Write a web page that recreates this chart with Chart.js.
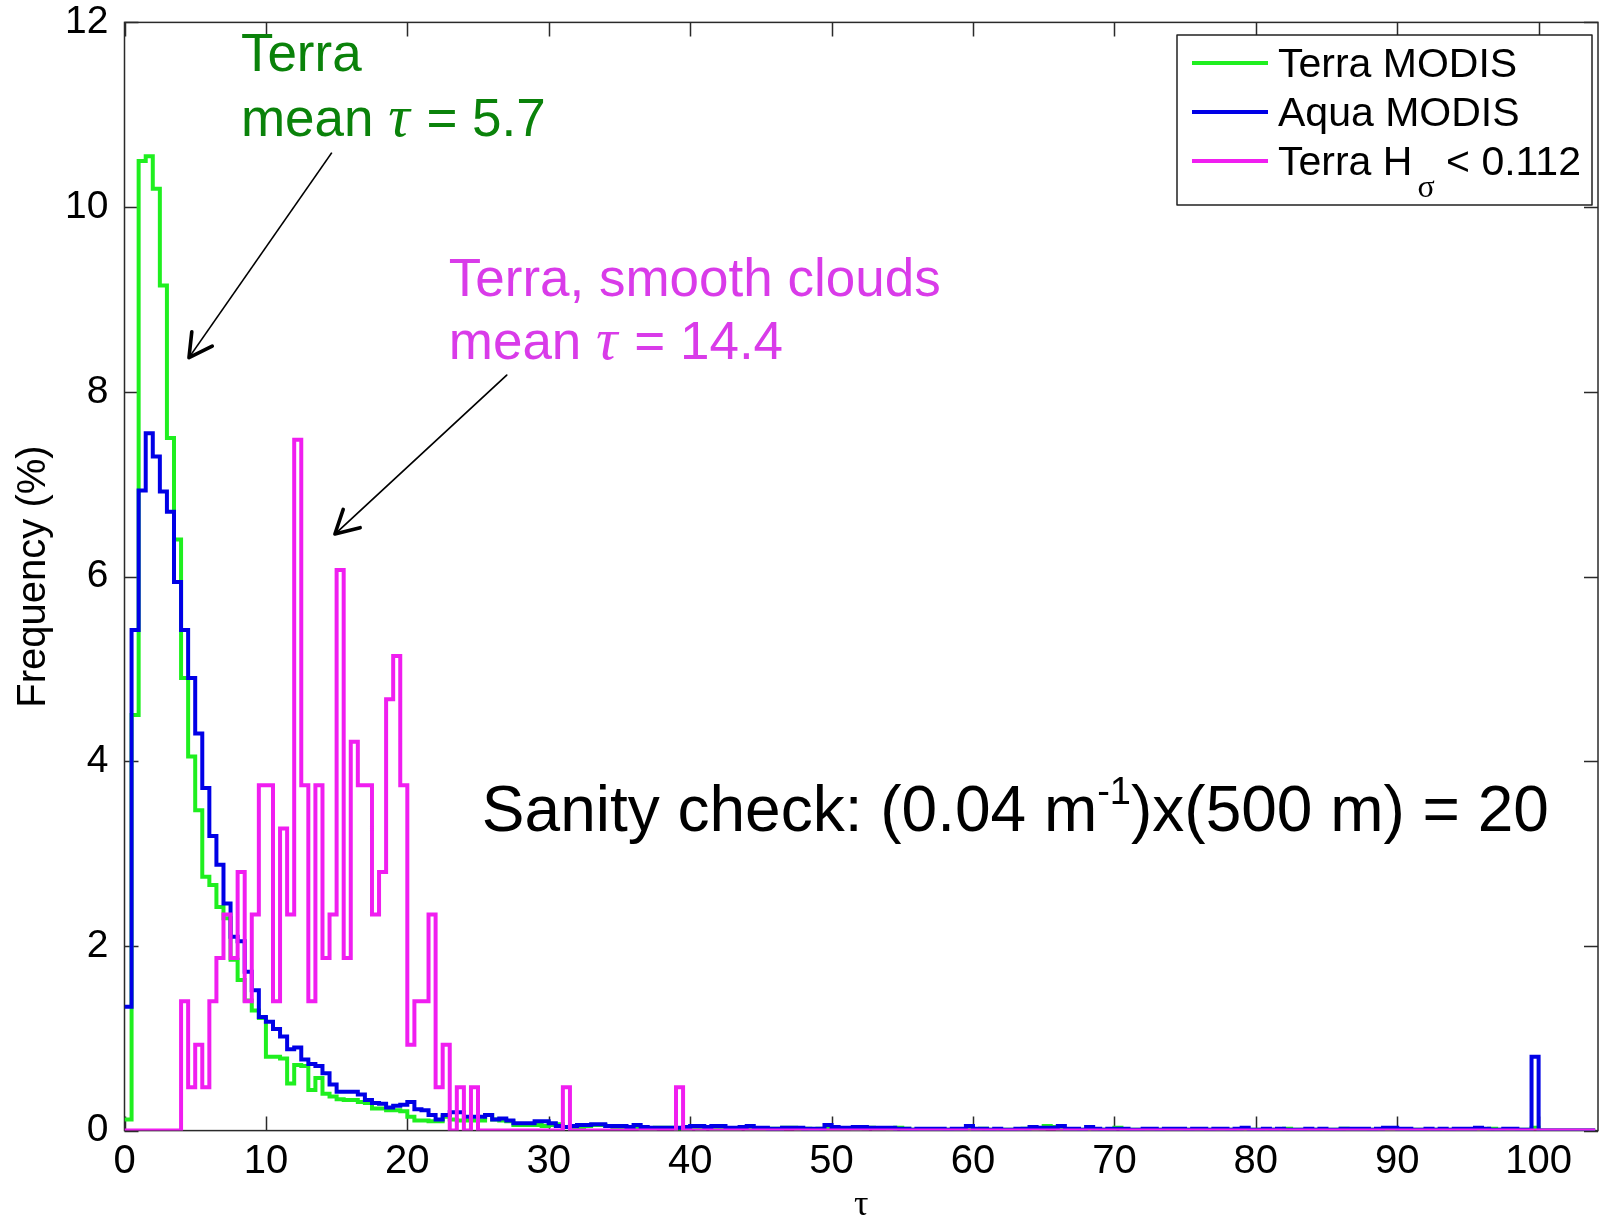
<!DOCTYPE html>
<html>
<head>
<meta charset="utf-8">
<script src="https://cdn.jsdelivr.net/npm/chart.js"></script>
<style>
  html, body { margin: 0; padding: 0; background: #fff; }
  #c { display: block; }
</style>
</head>
<body>
<canvas id="c" width="1600" height="1224"></canvas>
<script>
// histogram bins are 0.5 wide in tau, first bin starts at 0
const binWidth = 0.5;

// Terra MODIS, frequency (%) per bin
const terraFreq = [
  0.12, 4.5, 10.5, 10.55, 10.2, 9.15, 7.5, 6.4, 4.9, 4.05,
  3.47, 2.75, 2.66, 2.42, 2.3, 1.85, 1.63, 1.41, 1.3, 1.22,
  0.8, 0.8, 0.78, 0.51, 0.71, 0.7, 0.44, 0.57, 0.4, 0.37,
  0.34, 0.33, 0.33, 0.31, 0.3, 0.24, 0.24, 0.22, 0.22, 0.21,
  0.15, 0.11, 0.11, 0.1, 0.1, 0.15, 0.12, 0.11, 0.11, 0.11,
  0.11, 0.17, 0.12, 0.11, 0.1, 0.06, 0.06, 0.06, 0.06, 0.05,
  0.06, 0.07, 0.04, 0.04, 0.04, 0.05, 0.06, 0.06, 0.05, 0.04,
  0.04, 0.03, 0.03, 0.02, 0.02, 0.03, 0.03, 0.03, 0.02, 0.02,
  0.03, 0.02, 0.03, 0.02, 0.02, 0.02, 0.02, 0.03, 0.02, 0.02,
  0.02, 0.02, 0.02, 0.03, 0.03, 0.02, 0.02, 0.01, 0.02, 0.02,
  0.02, 0.02, 0.02, 0.01, 0.02, 0.03, 0.02, 0.02, 0.01, 0.03,
  0.02, 0.01, 0.01, 0.01, 0.01, 0.01, 0.01, 0.01, 0.01, 0.01,
  0.01, 0.02, 0.01, 0.01, 0.01, 0.01, 0.01, 0.02, 0.01, 0.02,
  0.05, 0.04, 0.02, 0.01, 0.01, 0.01, 0.01, 0.01, 0.01, 0.01,
  0.03, 0.01, 0.01, 0.01, 0.01, 0.01, 0.01, 0.01, 0.01, 0.01,
  0.01, 0.01, 0.01, 0.01, 0.01, 0.01, 0.01, 0.01, 0.01, 0.01,
  0.01, 0.01, 0.01, 0.01, 0.02, 0.01, 0.01, 0.01, 0.01, 0.01,
  0.01, 0.01, 0.02, 0.01, 0.01, 0.01, 0.01, 0.01, 0.01, 0.01,
  0.01, 0.01, 0.01, 0.01, 0.01, 0.01, 0.01, 0.01, 0.01, 0.01,
  0.01, 0.01, 0.01, 0.02, 0.01, 0.01, 0.01, 0.01, 0.01, 0.03,
  0, 0, 0, 0, 0, 0, 0, 0
];

// Aqua MODIS
const aquaFreq = [
  1.34, 5.42, 6.93, 7.55, 7.3, 6.92, 6.7, 5.94, 5.42, 4.9,
  4.3, 3.71, 3.19, 2.88, 2.46, 2.1, 2.05, 1.72, 1.52, 1.23,
  1.18, 1.1, 1.02, 0.88, 0.9, 0.77, 0.72, 0.7, 0.62, 0.5,
  0.42, 0.42, 0.42, 0.39, 0.33, 0.3, 0.29, 0.25, 0.27, 0.28,
  0.31, 0.23, 0.22, 0.17, 0.12, 0.17, 0.2, 0.2, 0.15, 0.15,
  0.15, 0.17, 0.12, 0.13, 0.11, 0.08, 0.08, 0.08, 0.1, 0.1,
  0.08, 0.05, 0.04, 0.05, 0.06, 0.06, 0.07, 0.07, 0.05, 0.05,
  0.05, 0.04, 0.06, 0.04, 0.03, 0.03, 0.03, 0.03, 0.03, 0.04,
  0.05, 0.05, 0.04, 0.05, 0.05, 0.03, 0.03, 0.04, 0.05, 0.03,
  0.03, 0.02, 0.02, 0.03, 0.03, 0.03, 0.02, 0.02, 0.02, 0.06,
  0.04, 0.03, 0.03, 0.04, 0.04, 0.03, 0.03, 0.03, 0.03, 0.02,
  0.02, 0.01, 0.02, 0.02, 0.02, 0.02, 0.01, 0.02, 0.02, 0.05,
  0.02, 0.02, 0.01, 0.02, 0.01, 0.01, 0.02, 0.02, 0.04, 0.03,
  0.03, 0.03, 0.05, 0.02, 0.02, 0.01, 0.04, 0.02, 0.01, 0.02,
  0.02, 0.02, 0.01, 0.01, 0.02, 0.02, 0.01, 0.02, 0.02, 0.02,
  0.01, 0.02, 0.02, 0.01, 0.02, 0.02, 0.01, 0.02, 0.03, 0.01,
  0.01, 0.02, 0.01, 0.02, 0.01, 0.01, 0.01, 0.02, 0.01, 0.02,
  0.01, 0.01, 0.02, 0.02, 0.02, 0.02, 0.01, 0.02, 0.03, 0.03,
  0.02, 0.02, 0.01, 0.01, 0.02, 0.01, 0.02, 0.01, 0.02, 0.02,
  0.02, 0.03, 0.02, 0.01, 0.01, 0.02, 0.02, 0.01, 0.01, 0.8,
  0, 0, 0, 0, 0, 0, 0, 0
];

// Terra, H_sigma < 0.112 (smooth clouds)
const smoothFreq = [
  0, 0, 0, 0, 0, 0, 0, 0, 1.4, 0.47,
  0.93, 0.47, 1.4, 1.87, 2.34, 1.87, 2.8, 1.4, 2.34, 3.74,
  3.74, 1.4, 3.27, 2.34, 7.48, 3.74, 1.4, 3.74, 1.87, 2.34,
  6.07, 1.87, 4.21, 3.74, 3.74, 2.34, 2.8, 4.67, 5.14, 3.74,
  0.93, 1.4, 1.4, 2.34, 0.47, 0.93, 0, 0.47, 0, 0.47,
  0, 0, 0, 0, 0, 0, 0, 0, 0, 0,
  0, 0, 0.47, 0, 0, 0, 0, 0, 0, 0,
  0, 0, 0, 0, 0, 0, 0, 0, 0.47, 0,
  0, 0, 0, 0, 0, 0, 0, 0, 0, 0,
  0, 0, 0, 0, 0, 0, 0, 0, 0, 0,
  0, 0, 0, 0, 0, 0, 0, 0, 0, 0,
  0, 0, 0, 0, 0, 0, 0, 0, 0, 0,
  0, 0, 0, 0, 0, 0, 0, 0, 0, 0,
  0, 0, 0, 0, 0, 0, 0, 0, 0, 0,
  0, 0, 0, 0, 0, 0, 0, 0, 0, 0,
  0, 0, 0, 0, 0, 0, 0, 0, 0, 0,
  0, 0, 0, 0, 0, 0, 0, 0, 0, 0,
  0, 0, 0, 0, 0, 0, 0, 0, 0, 0,
  0, 0, 0, 0, 0, 0, 0, 0, 0, 0,
  0, 0, 0, 0, 0, 0, 0, 0, 0, 0,
  0, 0, 0, 0, 0, 0, 0, 0
];

const xTickValues = [0, 10, 20, 30, 40, 50, 60, 70, 80, 90, 100];
const yTickValues = [0, 2, 4, 6, 8, 10, 12];
const xMax = 104.2;
const yMax = 12;

const SANS = "'Liberation Sans', Arial, Helvetica, sans-serif";
const SERIF = "'Liberation Serif', 'Times New Roman', serif";
const GREEN = '#1fef1f';
const BLUE = '#0000e6';
const MAGENTA = '#f01ef0';
const GREEN_TEXT = '#0a820a';
const MAGENTA_TEXT = '#d93be9';

// left edges of the bins -> points for a stepped line
function stepPoints(freq) {
  const pts = freq.map((v, i) => ({ x: i * binWidth, y: v }));
  pts.push({ x: freq.length * binWidth, y: freq[freq.length - 1] });
  return pts;
}

// draw a run of text pieces one after the other (for sub/superscripts and the tau)
function drawRuns(ctx, x, y, runs, color) {
  ctx.fillStyle = color;
  ctx.textBaseline = 'alphabetic';
  ctx.textAlign = 'left';
  let cx = x;
  runs.forEach(r => {
    ctx.font = r.font;
    ctx.fillText(r.text, cx, y + (r.dy || 0));
    cx += ctx.measureText(r.text).width + (r.gap || 0);
  });
}

function arrow(ctx, x0, y0, x1, y1) {
  const ang = Math.atan2(y1 - y0, x1 - x0);
  const len = 26, spread = 0.5;
  ctx.strokeStyle = '#000';
  ctx.lineWidth = 1.7;
  ctx.beginPath();
  ctx.moveTo(x0, y0);
  ctx.lineTo(x1, y1);
  ctx.stroke();
  ctx.lineWidth = 3.6;
  ctx.lineCap = 'round';
  ctx.lineJoin = 'round';
  ctx.beginPath();
  ctx.moveTo(x1 - len * Math.cos(ang - spread), y1 - len * Math.sin(ang - spread));
  ctx.lineTo(x1, y1);
  ctx.lineTo(x1 - len * Math.cos(ang + spread), y1 - len * Math.sin(ang + spread));
  ctx.stroke();
}

// matlab style box with inward ticks on all four sides
const axesBox = {
  id: 'axesBox',
  beforeDatasetsDraw(chart) {
    const { ctx, chartArea: a, scales: { x, y } } = chart;
    const tl = 14;
    ctx.save();
    ctx.strokeStyle = '#2a2a2a';
    ctx.lineWidth = 1.5;
    ctx.strokeRect(a.left, a.top, a.right - a.left, a.bottom - a.top);
    ctx.beginPath();
    xTickValues.forEach(v => {
      const px = Math.round(x.getPixelForValue(v)) + 0.5;
      ctx.moveTo(px, a.bottom); ctx.lineTo(px, a.bottom - tl);
      ctx.moveTo(px, a.top); ctx.lineTo(px, a.top + tl);
    });
    yTickValues.forEach(v => {
      const py = Math.round(y.getPixelForValue(v)) + 0.5;
      ctx.moveTo(a.left, py); ctx.lineTo(a.left + tl, py);
      ctx.moveTo(a.right, py); ctx.lineTo(a.right - tl, py);
    });
    ctx.stroke();
    ctx.restore();
  }
};

const notes = {
  id: 'notes',
  afterDatasetsDraw(chart) {
    const { ctx, scales: { x, y } } = chart;
    const px = v => x.getPixelForValue(v);
    const py = v => y.getPixelForValue(v);
    const big = '53px ' + SANS;
    const tau = 'italic 60px ' + SERIF;
    ctx.save();

    // Terra note
    drawRuns(ctx, px(8.23), py(11.47), [{ text: 'Terra', font: big }], GREEN_TEXT);
    drawRuns(ctx, px(8.23), py(10.77), [
      { text: 'mean ', font: big },
      { text: 'τ', font: tau, gap: 2 },
      { text: ' = 5.7', font: big }
    ], GREEN_TEXT);
    arrow(ctx, px(14.66), py(10.59), px(4.56), py(8.37));

    // smooth clouds note
    drawRuns(ctx, px(22.93), py(9.04), [{ text: 'Terra, smooth clouds', font: big }], MAGENTA_TEXT);
    drawRuns(ctx, px(22.93), py(8.35), [
      { text: 'mean ', font: big },
      { text: 'τ', font: tau, gap: 2 },
      { text: ' = 14.4', font: big }
    ], MAGENTA_TEXT);
    arrow(ctx, px(27.03), py(8.18), px(14.88), py(6.46));

    // sanity check
    const sc = '64px ' + SANS;
    drawRuns(ctx, px(25.27), py(3.24), [
      { text: 'Sanity check: (0.04 m', font: sc },
      { text: '-1', font: '38px ' + SANS, dy: -27 },
      { text: ')x(500 m) = 20', font: sc }
    ], '#000');

    // legend
    const bx = 1177, by = 35, bw = 415, bh = 170;
    const lf = '41px ' + SANS;
    ctx.fillStyle = '#fff';
    ctx.fillRect(bx, by, bw, bh);
    ctx.strokeStyle = '#222';
    ctx.lineWidth = 1.5;
    ctx.strokeRect(bx, by, bw, bh);
    const rows = [
      { color: GREEN, runs: [{ text: 'Terra MODIS', font: lf }] },
      { color: BLUE, runs: [{ text: 'Aqua MODIS', font: lf }] },
      { color: MAGENTA, runs: [
        { text: 'Terra H', font: lf, gap: 5 },
        { text: 'σ', font: '32px ' + SERIF, dy: 22, gap: 0 },
        { text: ' < 0.112', font: lf }
      ] }
    ];
    rows.forEach((r, i) => {
      const ry = 63 + i * 49;
      ctx.strokeStyle = r.color;
      ctx.lineWidth = 4;
      ctx.lineCap = 'butt';
      ctx.beginPath();
      ctx.moveTo(1192, ry); ctx.lineTo(1268, ry);
      ctx.stroke();
      drawRuns(ctx, 1278, ry + 14, r.runs, '#000');
    });
    ctx.restore();
  }
};

const ctx = document.getElementById('c').getContext('2d');
new Chart(ctx, {
  type: 'line',
  data: {
    datasets: [
      { label: 'Terra MODIS', data: stepPoints(terraFreq), borderColor: GREEN, order: 3 },
      { label: 'Aqua MODIS', data: stepPoints(aquaFreq), borderColor: BLUE, order: 2 },
      { label: 'Terra Hσ < 0.112', data: stepPoints(smoothFreq), borderColor: MAGENTA, order: 1 }
    ]
  },
  options: {
    responsive: false,
    animation: false,
    devicePixelRatio: 1,
    layout: { padding: { top: 22.4, right: 2, left: 0, bottom: 0 } },
    elements: {
      line: { borderWidth: 4, stepped: true, tension: 0, fill: false, borderJoinStyle: 'miter' },
      point: { radius: 0 }
    },
    plugins: { legend: { display: false }, tooltip: { enabled: false } },
    scales: {
      x: {
        type: 'linear',
        min: 0,
        max: xMax,
        grid: { display: false, drawTicks: false },
        border: { display: false },
        afterBuildTicks: s => { s.ticks = xTickValues.map(v => ({ value: v })); },
        afterFit: s => { s.height = 93.4; s.paddingLeft = 0; s.paddingRight = 0; },
        ticks: { padding: 7, color: '#000', font: { family: SANS, size: 40 }, maxRotation: 0, autoSkip: false },
        title: { display: true, text: 'τ', color: '#000', font: { family: SERIF, size: 36, lineHeight: 1 }, padding: 0 }
      },
      y: {
        type: 'linear',
        min: 0,
        max: yMax,
        grid: { display: false, drawTicks: false },
        border: { display: false },
        afterBuildTicks: s => { s.ticks = yTickValues.map(v => ({ value: v })); },
        afterFit: s => { s.width = 124.5; s.paddingTop = 0; s.paddingBottom = 0; },
        ticks: { padding: 16, color: '#000', font: { family: SANS, size: 39 } },
        title: { display: true, text: 'Frequency (%)', color: '#000', font: { family: SANS, size: 40, lineHeight: 1 }, padding: { top: 14, bottom: 0 } }
      }
    }
  },
  plugins: [axesBox, notes]
});
</script>
</body>
</html>
